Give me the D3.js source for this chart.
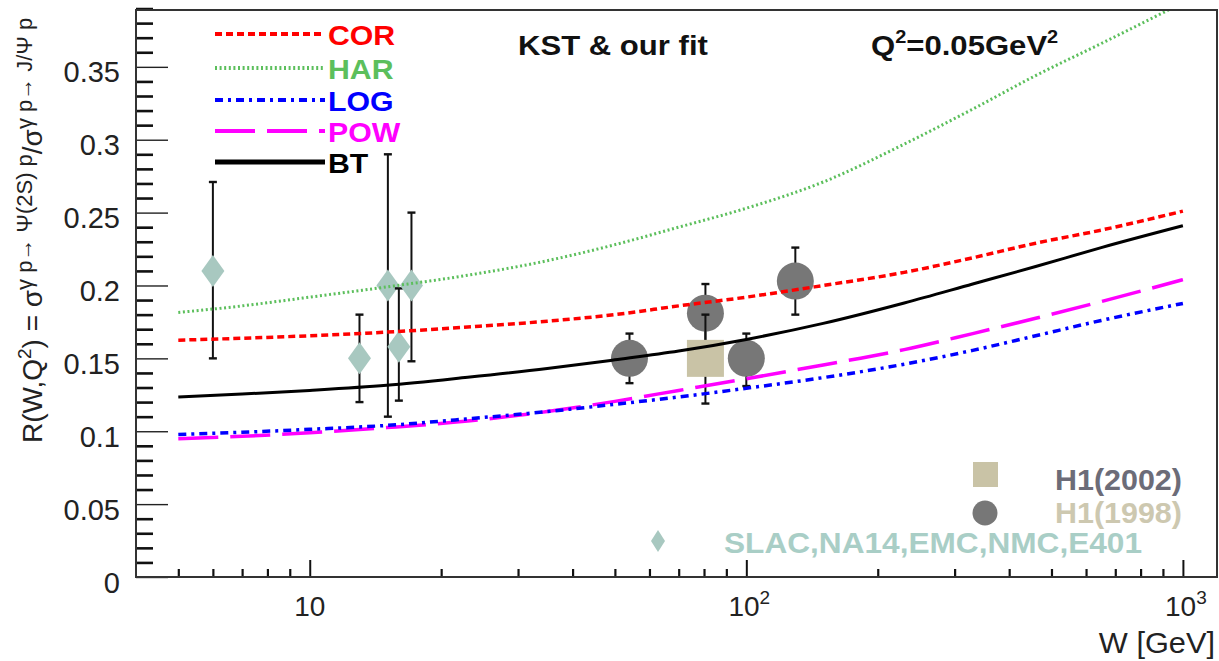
<!DOCTYPE html>
<html>
<head>
<meta charset="utf-8">
<script src="https://cdn.jsdelivr.net/npm/d3@7"></script>
<style>
  body { margin: 0; background: #fff; }
  svg { display: block; font-family: "Liberation Sans", Arial, sans-serif; }
</style>
</head>
<body>
<svg id="chart" width="1219" height="661"></svg>
<script>
// ---- model curves R(W) at Q^2 = 0.05 GeV^2, sampled on a common W grid [GeV]
const curveW = [5, 7, 10, 15, 23, 35, 50, 70, 100, 150, 230, 330, 460, 650, 1000];
const corR = [0.1625, 0.1638, 0.1655, 0.168, 0.1715, 0.1755, 0.180, 0.186, 0.192, 0.200, 0.209, 0.219, 0.229, 0.238, 0.251];
const harR = [0.1815, 0.186, 0.192, 0.199, 0.207, 0.217, 0.228, 0.240, 0.253, 0.271, 0.297, 0.321, 0.344, 0.366, 0.394];
const logR = [0.0978, 0.0993, 0.1013, 0.104, 0.1085, 0.1135, 0.1185, 0.1235, 0.1295, 0.1368, 0.146, 0.1555, 0.1655, 0.176, 0.1877];
const powR = [0.0948, 0.0965, 0.099, 0.1025, 0.107, 0.1135, 0.1205, 0.128, 0.136, 0.1455, 0.156, 0.167, 0.1775, 0.189, 0.204];
const btR  = [0.1235, 0.1255, 0.128, 0.1315, 0.137, 0.143, 0.149, 0.155, 0.163, 0.174, 0.188, 0.201, 0.213, 0.226, 0.241];

// ---- measurements
const slacW  = [6, 13, 15.1, 16, 17.1];
const slacR  = [0.210, 0.150, 0.200, 0.158, 0.200];
const slacLo = [0.150, 0.120, 0.110, 0.121, 0.148];
const slacHi = [0.271, 0.180, 0.290, 0.198, 0.250];

const h1998W  = [54, 80.6, 100, 129.5];
const h1998R  = [0.150, 0.181, 0.150, 0.203];
const h1998Lo = [0.133, 0.161, 0.131, 0.180];
const h1998Hi = [0.167, 0.201, 0.167, 0.226];

const h2002W  = [80.6];
const h2002R  = [0.150];
const h2002Lo = [0.119];
const h2002Hi = [0.180];

// ---- axis ticks
const xMajor = [10, 100, 1000];
const xMajorLabel = [["10", ""], ["10", "2"], ["10", "3"]];
const xMinor = [5, 6, 7, 8, 9, 20, 30, 40, 50, 60, 70, 80, 90, 200, 300, 400, 500, 600, 700, 800, 900];
const yMajor = [0, 0.05, 0.1, 0.15, 0.2, 0.25, 0.3, 0.35];
const yMinor = d3.range(0, 40).map(i => i / 100).filter(v => Math.round(v * 100) % 5 !== 0);

const legendNames = ["COR", "HAR", "LOG", "POW", "BT"];

// ---- layout
const svg = d3.select("#chart");
const frame = { left: 136, right: 1217, top: 10, bottom: 577 };

const x = d3.scaleLog().domain([4, 1197]).range([frame.left, frame.right]);
const y = d3.scaleLinear().domain([0, 0.389]).range([frame.bottom, frame.top]);

// text drawn with a slight horizontal stretch (wide sans face)
function wideText(parent, px, py, sx, size, bold, fill, anchor) {
  return parent.append("text")
    .attr("transform", `translate(${px},${py}) scale(${sx},1)`)
    .attr("text-anchor", anchor || "start")
    .attr("font-size", size)
    .attr("font-weight", bold ? "bold" : "normal")
    .attr("fill", fill);
}

svg.append("defs").append("clipPath").attr("id", "plotClip")
  .append("rect")
  .attr("x", frame.left).attr("y", frame.top)
  .attr("width", frame.right - frame.left).attr("height", frame.bottom - frame.top);

// ---- axes (ticks point into the frame)
const yMinorAxis = d3.axisLeft(y).tickValues(yMinor).tickSize(-17).tickFormat("");
svg.append("g").attr("transform", `translate(${frame.left},0)`).call(yMinorAxis)
  .call(g => g.select(".domain").remove())
  .call(g => g.selectAll("line").attr("stroke", "#111").attr("stroke-width", 2.6));

const yMajorAxis = d3.axisLeft(y).tickValues(yMajor).tickSize(-32).tickPadding(16)
  .tickFormat(d => d === 0 ? "0" : d3.format("")(+d.toFixed(2)));
svg.append("g").attr("transform", `translate(${frame.left},0)`).call(yMajorAxis)
  .call(g => g.select(".domain").remove())
  .call(g => g.selectAll("line").attr("stroke", "#222").attr("stroke-width", 1.4))
  .call(g => g.selectAll("text").attr("font-size", 29).attr("fill", "#222")
    .attr("font-family", "Liberation Sans, Arial, sans-serif").attr("dy", "0.52em"));

const xMinorAxis = d3.axisBottom(x).tickValues(xMinor).tickSize(-8).tickFormat("");
svg.append("g").attr("transform", `translate(0,${frame.bottom})`).call(xMinorAxis)
  .call(g => g.select(".domain").remove())
  .call(g => g.selectAll("line").attr("stroke", "#111").attr("stroke-width", 2.2));

const xMajorAxis = d3.axisBottom(x).tickValues(xMajor).tickSize(-17).tickFormat("");
svg.append("g").attr("transform", `translate(0,${frame.bottom})`).call(xMajorAxis)
  .call(g => g.select(".domain").remove())
  .call(g => g.selectAll("line").attr("stroke", "#111").attr("stroke-width", 2));

// decade labels with superscript exponents
xMajor.forEach((v, i) => {
  const t = svg.append("text")
    .attr("x", x(v) + (xMajorLabel[i][1] ? 3 : 0)).attr("y", 616)
    .attr("text-anchor", "middle").attr("font-size", 28).attr("fill", "#222");
  t.append("tspan").text(xMajorLabel[i][0]);
  if (xMajorLabel[i][1]) t.append("tspan").attr("dy", -12).attr("font-size", 19).text(xMajorLabel[i][1]);
});

wideText(svg, 1215, 653, 1.06, 29, false, "#222", "end").text("W [GeV]");

// rotated y title
const yl = svg.append("text").attr("transform", "translate(42,443) rotate(-90)")
  .attr("font-size", 28).attr("fill", "#222");
yl.append("tspan").text("R(W,Q");
yl.append("tspan").attr("dy", -11).attr("font-size", 19).text("2");
yl.append("tspan").attr("dy", 11).text(") = σ");
yl.append("tspan").attr("dy", -10).attr("font-size", 22).text("γ p→ Ψ(2S) p");
yl.append("tspan").attr("dy", 10).text("/σ");
yl.append("tspan").attr("dy", -10).attr("font-size", 22).text("γ p→ J/Ψ p");

// ---- data points: error bar first, then marker, point by point
const plot = svg.append("g").attr("clip-path", "url(#plotClip)");

function errorBar(g, w, lo, hi) {
  const cx = x(w);
  g.append("line").attr("x1", cx).attr("x2", cx).attr("y1", y(lo)).attr("y2", y(hi))
    .attr("stroke", "#111").attr("stroke-width", 2);
  [lo, hi].forEach(v => g.append("line")
    .attr("x1", cx - 4).attr("x2", cx + 4).attr("y1", y(v)).attr("y2", y(v))
    .attr("stroke", "#111").attr("stroke-width", 2.4));
}

const diamondPath = (hw, hh) => `M0,${-hh}L${hw},0L0,${hh}L${-hw},0Z`;

slacW.forEach((w, i) => {
  errorBar(plot, w, slacLo[i], slacHi[i]);
  plot.append("path").attr("d", diamondPath(11.5, 16))
    .attr("transform", `translate(${x(w)},${y(slacR[i])})`).attr("fill", "#a8c8c0");
});

h1998W.forEach((w, i) => {
  errorBar(plot, w, h1998Lo[i], h1998Hi[i]);
  plot.append("circle").attr("cx", x(w)).attr("cy", y(h1998R[i])).attr("r", 18.5).attr("fill", "#777777");
});

h2002W.forEach((w, i) => {
  errorBar(plot, w, h2002Lo[i], h2002Hi[i]);
  plot.append("rect").attr("x", x(w) - 18.5).attr("y", y(h2002R[i]) - 18.5)
    .attr("width", 37).attr("height", 37).attr("fill", "#c9c3a6");
});

// ---- model curves
const styles = {
  COR: { color: "#ff0000", width: 3.5, dash: "7,4", values: corR },
  HAR: { color: "#5cbf5c", width: 3, dash: "2,2.6", values: harR },
  LOG: { color: "#0000ff", width: 3.5, dash: "8,5,3,5", values: logR },
  POW: { color: "#ff00ff", width: 3.5, dash: "40,12", values: powR },
  BT:  { color: "#000000", width: 3, dash: null, values: btR }
};

const line = d3.line().x(d => x(d[0])).y(d => y(d[1])).curve(d3.curveMonotoneX);

["HAR", "COR", "POW", "LOG", "BT"].forEach(name => {
  const s = styles[name];
  plot.append("path")
    .datum(curveW.map((w, i) => [w, s.values[i]]))
    .attr("d", line).attr("fill", "none")
    .attr("stroke", s.color).attr("stroke-width", s.width)
    .attr("stroke-dasharray", s.dash);
});

// ---- frame
svg.append("rect")
  .attr("x", frame.left).attr("y", frame.top)
  .attr("width", frame.right - frame.left).attr("height", frame.bottom - frame.top)
  .attr("fill", "none").attr("stroke", "#333").attr("stroke-width", 2);

// ---- model legend (top left)
const legY = [34, 68, 100, 131, 162];
const legBase = [45, 79, 111, 142, 173];
legendNames.forEach((name, i) => {
  const s = styles[name];
  svg.append("line").attr("x1", 215).attr("x2", 325).attr("y1", legY[i]).attr("y2", legY[i])
    .attr("stroke", s.color).attr("stroke-width", name === "BT" ? 5 : 4)
    .attr("stroke-dasharray", s.dash);
  wideText(svg, 328, legBase[i], 1.08, 28, true, s.color).text(name);
});

// ---- captions
wideText(svg, 518, 55, 1.11, 28, true, "#111").text("KST & our fit");
const q = wideText(svg, 871, 55, 1.11, 28, true, "#111");
q.append("tspan").text("Q");
q.append("tspan").attr("dy", -12).attr("font-size", 18).text("2");
q.append("tspan").attr("dy", 12).text("=0.05GeV");
q.append("tspan").attr("dy", -12).attr("font-size", 18).text("2");

// ---- measurement legend (bottom right)
svg.append("rect").attr("x", 973).attr("y", 462).attr("width", 25).attr("height", 25).attr("fill", "#c9c3a6");
wideText(svg, 1055, 490, 1.05, 29, true, "#6c6c78").text("H1(2002)");
svg.append("circle").attr("cx", 985).attr("cy", 513).attr("r", 12.5).attr("fill", "#777777");
wideText(svg, 1055, 523, 1.05, 29, true, "#cdc8b0").text("H1(1998)");
svg.append("path").attr("d", diamondPath(7, 11)).attr("transform", "translate(658,541)").attr("fill", "#a8c8c0");
wideText(svg, 1142, 553, 1.09, 29, true, "#a9cec6", "end").text("SLAC,NA14,EMC,NMC,E401");
</script>
</body>
</html>
